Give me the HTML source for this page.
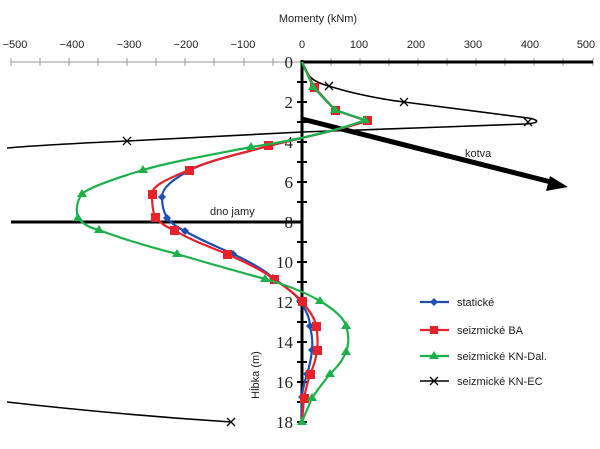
<!DOCTYPE html>
<html><head><meta charset="utf-8"><style>body{margin:0;background:#fff}svg{display:block}</style></head><body>
<svg width="600" height="449" viewBox="0 0 600 449" xmlns="http://www.w3.org/2000/svg" font-family="Liberation Sans, sans-serif">
<text x="318" y="22" font-size="11" text-anchor="middle" fill="#222">Momenty (kNm)</text>
<g font-size="11" fill="#222" text-anchor="middle">
<text x="15" y="48">−500</text><text x="72" y="48">−400</text><text x="129" y="48">−300</text><text x="186" y="48">−200</text><text x="243" y="48">−100</text><text x="302" y="48">0</text><text x="359" y="48">100</text><text x="416" y="48">200</text><text x="473" y="48">300</text><text x="530" y="48">400</text><text x="586" y="48">500</text>
</g>
<line x1="11" y1="62" x2="302" y2="62" stroke="#999" stroke-width="1"/>
<g stroke="#999" stroke-width="1">
<line x1="11" y1="58" x2="11" y2="66"/><line x1="40" y1="58" x2="40" y2="66"/><line x1="69" y1="58" x2="69" y2="66"/><line x1="98" y1="58" x2="98" y2="66"/><line x1="127" y1="58" x2="127" y2="66"/><line x1="156" y1="58" x2="156" y2="66"/><line x1="185" y1="58" x2="185" y2="66"/><line x1="214" y1="58" x2="214" y2="66"/><line x1="244" y1="58" x2="244" y2="66"/><line x1="273" y1="58" x2="273" y2="66"/>
<line x1="331" y1="58" x2="331" y2="66"/><line x1="360" y1="58" x2="360" y2="66"/><line x1="389" y1="58" x2="389" y2="66"/><line x1="418" y1="58" x2="418" y2="66"/><line x1="447" y1="58" x2="447" y2="66"/><line x1="476" y1="58" x2="476" y2="66"/><line x1="505" y1="58" x2="505" y2="66"/><line x1="534" y1="58" x2="534" y2="66"/><line x1="563" y1="58" x2="563" y2="66"/><line x1="593" y1="58" x2="593" y2="66"/>
</g>
<line x1="302" y1="62" x2="593" y2="62" stroke="#000" stroke-width="3"/>
<line x1="302" y1="60" x2="302" y2="424" stroke="#000" stroke-width="3"/>
<g stroke="#000" stroke-width="2">
<line x1="297" y1="82" x2="307" y2="82"/><line x1="297" y1="102" x2="307" y2="102"/><line x1="297" y1="122" x2="307" y2="122"/><line x1="297" y1="142" x2="307" y2="142"/><line x1="297" y1="162" x2="307" y2="162"/><line x1="297" y1="182" x2="307" y2="182"/><line x1="297" y1="202" x2="307" y2="202"/><line x1="297" y1="242" x2="307" y2="242"/><line x1="297" y1="262" x2="307" y2="262"/><line x1="297" y1="282" x2="307" y2="282"/><line x1="297" y1="302" x2="307" y2="302"/><line x1="297" y1="322" x2="307" y2="322"/><line x1="297" y1="342" x2="307" y2="342"/><line x1="297" y1="362" x2="307" y2="362"/><line x1="297" y1="382" x2="307" y2="382"/><line x1="297" y1="402" x2="307" y2="402"/><line x1="297" y1="422" x2="307" y2="422"/>
</g>
<g font-family="Liberation Serif, serif" font-size="17" fill="#222" text-anchor="end">
<text x="293" y="68">0</text><text x="293" y="108">2</text><text x="293" y="148">4</text><text x="293" y="188">6</text><text x="293" y="228">8</text><text x="293" y="268">10</text><text x="293" y="308">12</text><text x="293" y="348">14</text><text x="293" y="388">16</text><text x="293" y="428">18</text>
</g>
<text transform="translate(259,375) rotate(-90)" font-size="11" fill="#222" text-anchor="middle">Hĺbka (m)</text>
<line x1="11" y1="222" x2="302" y2="222" stroke="#000" stroke-width="3"/>
<text x="210" y="215" font-size="11" fill="#222">dno jamy</text>
<line x1="302" y1="119" x2="555" y2="183" stroke="#000" stroke-width="5"/>
<polygon points="568,187 550,176 546,191" fill="#000"/>
<text x="465" y="157" font-size="11" fill="#222">kotva</text>
<path d="M302,62 C306,75 312,82 329,86 C350,93 380,99 404,102 C450,108 500,114 528,118 C540,120 540,123 525,124 C450,127 380,129 302,132 C230,136 170,139 127,141 C60,144 30,146 7,148" fill="none" stroke="#000" stroke-width="1.6"/>
<path d="M7,402 C60,408 140,416 231,422" fill="none" stroke="#000" stroke-width="1.6"/>
<g stroke="#000" stroke-width="1.3">
<path d="M325,82l8,8M333,82l-8,8M400,98l8,8M408,98l-8,8M524,118l8,8M532,118l-8,8M123,137l8,8M131,137l-8,8M227,418l8,8M235,418l-8,8"/>
</g>
<path d="M302,62 L314,87 L335,110 L367,121 C340,130 300,138 268,146 C240,154 210,160 190,170 C172,180 162,188 162,197 C162,208 165,214 167,218 C172,224 178,228 185,231 C200,240 218,247 233,254 C250,262 265,270 273,278 C285,286 295,294 300,301 C306,310 310,318 310,326 C312,335 313,342 312,350 C311,360 309,368 307,374 C304,384 302,392 302,397 L302,422" fill="none" stroke="#1f4fb0" stroke-width="2.2"/>
<g fill="#1f4fb0">
<path d="M190,166l4,4-4,4-4-4z M162,193l4,4-4,4-4-4z M167,214l4,4-4,4-4-4z M185,227l4,4-4,4-4-4z M233,250l4,4-4,4-4-4z M273,274l4,4-4,4-4-4z M300,297l4,4-4,4-4-4z M310,322l4,4-4,4-4-4z M312,346l4,4-4,4-4-4z M307,370l4,4-4,4-4-4z M302,393l4,4-4,4-4-4z"/>
</g>
<path d="M302,62 L314,87 L335,110 L367,121 C340,130 300,138 268,146 C240,154 210,160 189,170 C165,180 152,186 152,194 C152,205 153,212 155,217 C160,223 166,227 174,230 C190,240 210,247 227,254 C245,262 262,270 274,279 C285,287 296,294 302,302 C309,310 315,318 316,326 C318,335 318,342 317,350 C316,360 313,368 310,374 C307,385 305,392 304,398 L302,422" fill="none" stroke="#e8212a" stroke-width="2.2"/>
<g fill="#e8212a">
<rect x="310" y="83" width="9" height="9"/><rect x="331" y="106" width="9" height="9"/><rect x="363" y="116" width="9" height="9"/><rect x="264" y="141" width="9" height="9"/><rect x="185" y="166" width="9" height="9"/><rect x="148" y="190" width="9" height="9"/><rect x="151" y="213" width="9" height="9"/><rect x="170" y="226" width="9" height="9"/><rect x="223" y="250" width="9" height="9"/><rect x="270" y="275" width="9" height="9"/><rect x="298" y="297" width="9" height="9"/><rect x="312" y="322" width="9" height="9"/><rect x="313" y="346" width="9" height="9"/><rect x="306" y="370" width="9" height="9"/><rect x="300" y="394" width="9" height="9"/>
</g>
<path d="M302,62 L313,87 L335,110 L365,120 C345,128 300,140 251,147 C210,155 170,162 143,170 C110,180 88,188 82,194 C76,202 76,212 78,218 C83,224 90,228 99,230 C125,240 150,247 177,254 C210,264 240,272 265,279 C290,286 308,294 320,301 C335,310 344,318 346,326 C349,335 349,344 346,352 C342,362 336,368 330,374 C322,384 316,392 312,398 C308,408 304,416 302,422" fill="none" stroke="#1cb14a" stroke-width="2.2"/>
<g fill="#1cb14a">
<path d="M313,82l5,8h-10z M335,105l5,8h-10z M365,115l5,8h-10z M251,142l5,8h-10z M143,165l5,8h-10z M82,189l5,8h-10z M78,213l5,8h-10z M99,225l5,8h-10z M177,249l5,8h-10z M265,274l5,8h-10z M320,296l5,8h-10z M346,321l5,8h-10z M346,347l5,8h-10z M330,369l5,8h-10z M312,393l5,8h-10z M302,417l5,8h-10z"/>
</g>
<g font-size="11" fill="#222">
<line x1="420" y1="302" x2="449" y2="302" stroke="#1f4fb0" stroke-width="2.2"/><path d="M434,298l4,4-4,4-4-4z" fill="#1f4fb0"/><text x="457" y="306">statické</text>
<line x1="420" y1="330" x2="449" y2="330" stroke="#e8212a" stroke-width="2.2"/><rect x="430" y="326" width="8" height="8" fill="#e8212a"/><text x="457" y="334">seizmické BA</text>
<line x1="420" y1="356" x2="449" y2="356" stroke="#1cb14a" stroke-width="2.2"/><path d="M434,351l5,8h-10z" fill="#1cb14a"/><text x="457" y="360">seizmické KN-Dal.</text>
<line x1="420" y1="381" x2="449" y2="381" stroke="#000" stroke-width="1.6"/><path d="M430,377l8,8M438,377l-8,8" stroke="#000" stroke-width="1.3"/><text x="457" y="385">seizmické KN-EC</text>
</g>
</svg>
</body></html>
